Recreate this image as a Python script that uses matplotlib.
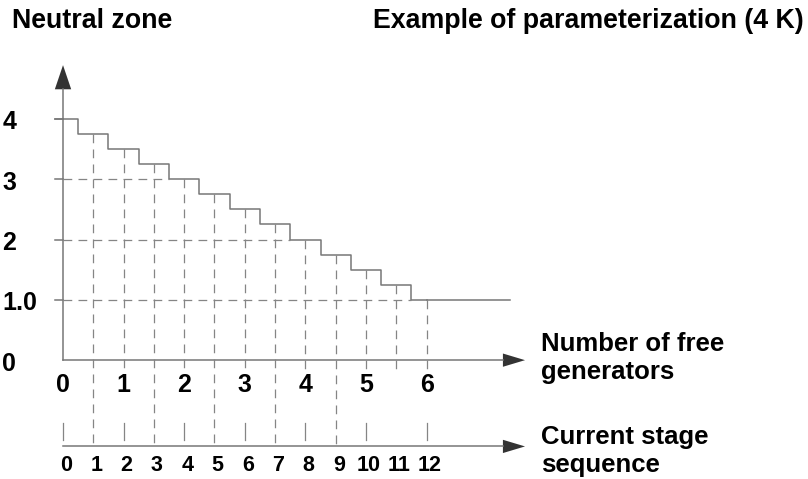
import numpy as np
import matplotlib.pyplot as plt
from matplotlib.patches import Polygon

plt.rcParams['font.family'] = ['Liberation Sans', 'DejaVu Sans']
plt.rcParams['font.weight'] = 'bold'

# Данные: ступени и уровни нейтральной зоны
stages = list(range(0, 13))
zone = [4 - 0.25 * k for k in stages]
generators = [0, 1, 2, 3, 4, 5, 6]
y_ticks = [4, 3, 2, 1]
y_labels = ['4', '3', '2', '1.0', '0']
y_label_pos = [4, 3, 2, 1, 0]

gray = '#777777'
dash_col = '#858585'
dark = '#333333'

fig = plt.figure(figsize=(8.08, 4.79), dpi=100)
ax = fig.add_axes([0, 0, 1, 1])
ax.set_xlim(-2.08, 24.59)
ax.set_ylim(-1.97, 5.97)
ax.axis('off')

x_end = 14.52      # конец осей (начало стрелки)
x_tip = 15.25
low_y = -1.43      # нижняя ось (номер ступени)
tick_left = -0.27

# оси
ax.plot([0, 0], [0, 4.49], color=gray, lw=1.1)
ax.plot([0, x_end], [0, 0], color=gray, lw=1.1)
ax.plot([0, x_end], [low_y, low_y], color=gray, lw=1.1)
ax.add_patch(Polygon([[-0.27, 4.49], [0.27, 4.49], [0, 4.89]], closed=True,
                     color=dark, lw=0))
for yy in [0, low_y]:
    ax.add_patch(Polygon([[x_end, yy + 0.11], [x_end, yy - 0.11], [x_tip, yy]],
                         closed=True, color=dark, lw=0))

# ступенчатая линия
ax.step(stages, zone, where='mid', color=gray, lw=1.1)
ax.plot([tick_left, 0], [zone[0], zone[0]], color=gray, lw=1.1)
ax.plot([stages[-1], 14.75], [zone[-1], zone[-1]], color=gray, lw=1.1)

# засечки и горизонтальные пунктиры
for v in y_ticks:
    ax.plot([tick_left, 0], [v, v], color=gray, lw=1.1)
for v in y_ticks[1:]:
    k = stages[zone.index(v)]
    ax.plot([0, k - 0.5], [v, v], color=dash_col, lw=0.9, dashes=(7, 5))

# вертикальные пунктиры
for k, z in zip(stages, zone):
    if k == 0:
        pass
    elif k % 2 == 1 and k < 11:
        ax.plot([k, k], [z, low_y], color=dash_col, lw=0.9, dashes=(7, 5))
    else:
        ax.plot([k, k], [z, -0.15], color=dash_col, lw=0.9, dashes=(7, 5))
    if k % 2 == 0:
        ax.plot([k, k], [low_y + 0.1, low_y + 0.38], color=dash_col, lw=0.9)

# подписи
for lab, v in zip(y_labels, y_label_pos):
    ax.text(-2.0, v - 0.06, lab, fontsize=18, ha='left', va='center')
for g in generators:
    ax.text(2 * g, -0.415, str(g), fontsize=18, ha='center', va='center',
            bbox=dict(facecolor='white', edgecolor='none', pad=1))
for k in stages:
    ax.text(k + 0.1, -1.74, str(k), fontsize=15.5, ha='center', va='center')

ax.text(15.77, 0.03, 'Number of free\ngenerators', fontsize=18.5,
        ha='left', va='center', linespacing=1.2)
ax.text(15.77, -1.50, 'Current stage\nsequence', fontsize=18.5,
        ha='left', va='center', linespacing=1.2)

fig.text(12 / 808, 1 - 21 / 479, 'Neutral zone', fontsize=19.3, va='center')
fig.text(373 / 808, 1 - 21 / 479, 'Example of parameterization (4 K)',
         fontsize=19.3, va='center')

plt.savefig('out.png', dpi=100)
